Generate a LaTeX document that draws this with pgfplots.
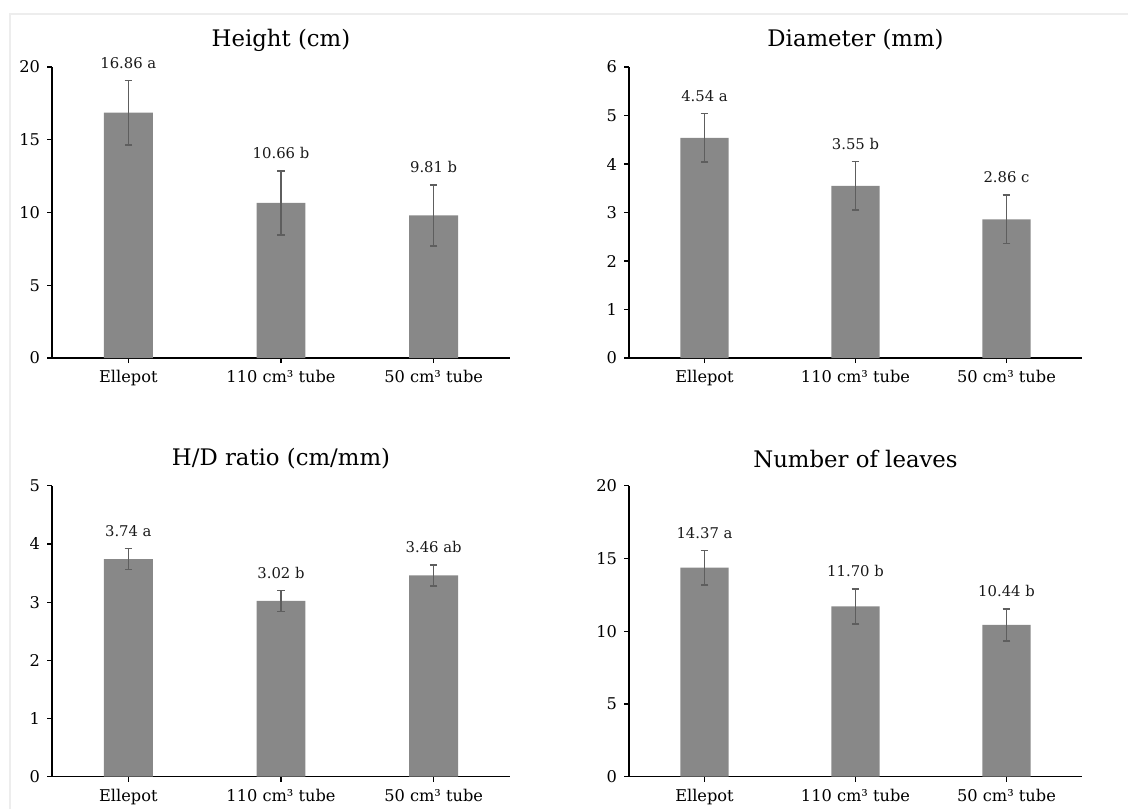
\documentclass[border=0pt]{standalone}
\usepackage{fontspec}
\setmainfont{DejaVu Serif}
\usepackage{pgfplots}
\usepackage{pgfplotstable}
\pgfplotsset{compat=1.18}
\definecolor{barc}{HTML}{888888}
\definecolor{errc}{HTML}{5E5E5E}
\newcommand\titlefont{\fontsize{11.4}{13}\selectfont}
\newcommand\tickfont{\fontsize{8.1}{9.5}\selectfont}
\newcommand\annotfont{\fontsize{7.4}{8.5}\selectfont}

\pgfplotstableread[col sep=comma]{
x,y,e,lab
0,16.86,2.21,16.86 a
1,10.66,2.20,10.66 b
2,9.81,2.10,9.81 b
}\tabH
\pgfplotstableread[col sep=comma]{
x,y,e,lab
0,4.54,0.50,4.54 a
1,3.55,0.50,3.55 b
2,2.86,0.50,2.86 c
}\tabD
\pgfplotstableread[col sep=comma]{
x,y,e,lab
0,3.74,0.18,3.74 a
1,3.02,0.18,3.02 b
2,3.46,0.18,3.46 ab
}\tabR
\pgfplotstableread[col sep=comma]{
x,y,e,lab
0,14.37,1.18,14.37 a
1,11.70,1.19,11.70 b
2,10.44,1.10,10.44 b
}\tabL

\pgfplotsset{
  panel/.style={
    scale only axis, height=145.5pt,
    xmin=-0.5, xmax=2.5, ymin=0,
    axis x line*=bottom, axis y line*=left,
    axis line style={-, line width=0.65pt, black},
    xtick={0,1,2},
    xticklabels={Ellepot, 110 cm³ tube, 50 cm³ tube},
    tick align=outside, major tick length=2.5pt,
    tick style={black, line width=0.6pt},
    ticklabel style={font=\tickfont},
    /pgf/number format/assume math mode=true,
    title style={font=\titlefont, at={(0.5,1)}, anchor=center, yshift=7.5pt},
    clip=false,
  },
  barplot/.style={ybar, bar width=0.32, bar shift=0pt, fill=barc, draw=none,
    error bars/.cd, y dir=both, y explicit,
    error bar style={color=errc, line width=0.8pt},
    error mark options={rotate=90, mark size=1.9pt, color=errc, line width=0.8pt}},
  labplot/.style={draw=none, mark=none, color=black, nodes near coords, point meta=explicit symbolic,
    every node near coord/.append style={anchor=base, yshift=6.2pt, inner sep=0pt, font=\annotfont, text=black!90}},
}

\begin{document}
\begin{tikzpicture}
\path[use as bounding box] (0,0) rectangle (564pt,-404.5pt);
\draw[black!7, line width=1pt] (5pt,-404.5pt) -- (5pt,-7pt) -- (564pt,-7pt);

\begin{axis}[panel, at={(26pt,-179pt)}, anchor=south west, width=229pt,
  ymax=20, ytick={0,5,10,15,20}, title={Height (cm)}]
\addplot[barplot] table[x=x, y=y, y error=e] {\tabH};
\addplot[labplot] table[x=x, y expr=\thisrow{y}+\thisrow{e}, meta=lab] {\tabH};
\end{axis}

\begin{axis}[panel, at={(314.5pt,-179pt)}, anchor=south west, width=226.5pt,
  ymax=6, ytick={0,1,2,3,4,5,6}, title={Diameter (mm)}]
\addplot[barplot] table[x=x, y=y, y error=e] {\tabD};
\addplot[labplot] table[x=x, y expr=\thisrow{y}+\thisrow{e}, meta=lab] {\tabD};
\end{axis}

\begin{axis}[panel, at={(26pt,-388.35pt)}, anchor=south west, width=229pt,
  ymax=5, ytick={0,1,2,3,4,5}, title={H/D ratio (cm/mm)}]
\addplot[barplot] table[x=x, y=y, y error=e] {\tabR};
\addplot[labplot] table[x=x, y expr=\thisrow{y}+\thisrow{e}, meta=lab] {\tabR};
\end{axis}

\begin{axis}[panel, at={(314.5pt,-388.35pt)}, anchor=south west, width=226.5pt,
  ymax=20, ytick={0,5,10,15,20}, title={Number of leaves}]
\addplot[barplot] table[x=x, y=y, y error=e] {\tabL};
\addplot[labplot] table[x=x, y expr=\thisrow{y}+\thisrow{e}, meta=lab] {\tabL};
\end{axis}
\end{tikzpicture}
\end{document}
